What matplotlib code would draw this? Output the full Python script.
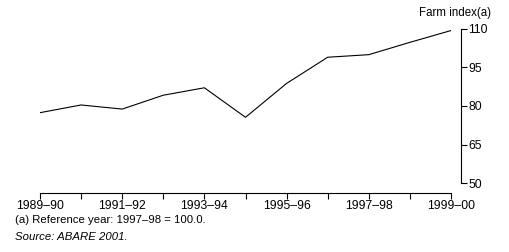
import matplotlib
matplotlib.use('Agg')
import matplotlib.pyplot as plt
import numpy as np

years = ["1989–90", "1990–91", "1991–92", "1992–93", "1993–94", "1994–95",
         "1995–96", "1996–97", "1997–98", "1998–99", "1999–00"]
farm_index = [77.4, 80.4, 78.8, 84.2, 87.1, 75.6, 88.8, 99.0, 100.0, 104.8, 109.4]
yticks = [50, 65, 80, 95, 110]

plt.rcParams['font.family'] = ['Liberation Sans', 'DejaVu Sans']

fig = plt.figure(figsize=(5.09, 2.52), dpi=100)
ax = fig.add_axes([40 / 509, 1 - 183 / 252, 411 / 509, 154 / 252])

x = np.arange(len(years))
ax.plot(x, farm_index, color='black', linewidth=0.8)

ax.set_xlim(x[0], x[-1])
ax.set_ylim(50, 110)
ax.set_xticks(x)
ax.set_xticklabels([y if i % 2 == 0 else '' for i, y in enumerate(years)])
ax.set_yticks(yticks)

ax.yaxis.tick_right()
for s in ['top', 'left']:
    ax.spines[s].set_visible(False)
ax.spines['bottom'].set_position(('outward', 7))
ax.spines['right'].set_position(('outward', 7))
for s in ['bottom', 'right']:
    ax.spines[s].set_linewidth(0.8)
ax.tick_params(axis='both', length=4, width=0.8, labelsize=8.8, pad=1.5, colors='black')

fig.text(491 / 509, 1 - 13 / 252, 'Farm index(a)', ha='right', va='center', fontsize=8.3)
fig.text(15 / 509, 1 - 220 / 252, '(a) Reference year: 1997–98 = 100.0.', ha='left', va='center', fontsize=8.2)
fig.text(15 / 509, 1 - 237 / 252, 'Source: ABARE 2001.', ha='left', va='center', fontsize=8.2, style='italic')

fig.savefig('out.png', dpi=100, facecolor='white')
